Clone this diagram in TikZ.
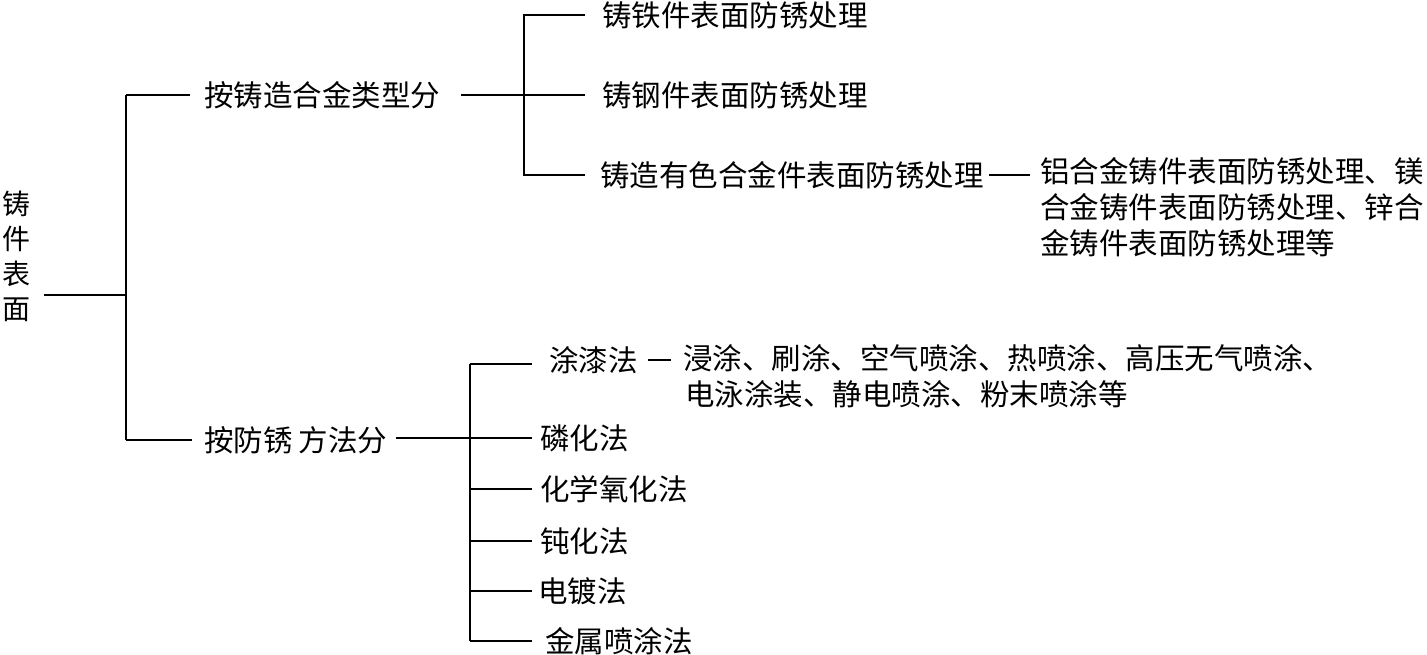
\documentclass[tikz,border=0pt]{standalone}
\usepackage{fontspec}
\setmainfont{Noto Sans CJK SC}
\begin{document}
\begin{tikzpicture}[x=1pt,y=-1pt,
  every node/.style={inner sep=0pt, anchor=west, font=\fontsize{29.5}{36}\selectfont},
  multi/.style={anchor=north west, align=left},
  heavy/.style={line width=2pt},
  light/.style={line width=1.1pt}]
\useasboundingbox (0,0) rectangle (1427,654);
% nodes
\node[anchor=center, align=center, font=\fontsize{28}{35}\selectfont] (root) at (16,256) {铸\\件\\表\\面};
\node (a) at (204,95) {按铸造合金类型分};
\node (b) at (204,440) {按防锈\hspace{6pt}方法分};
\node (a1) at (602,15) {铸铁件表面防锈处理};
\node (a2) at (602,95) {铸钢件表面防锈处理};
\node (a3) at (600,175) {铸造有色合金件表面防锈处理};
\node[multi] (a3d) at (1040,157) {铝合金铸件表面防锈处理、镁\\合金铸件表面防锈处理、锌合\\金铸件表面防锈处理等};
\node (b1) at (549,360) {涂漆法};
\node[multi] (b1d) at (683,344) {浸涂、刷涂、空气喷涂、热喷涂、高压无气喷涂、\\\hspace{2pt}电泳涂装、静电喷涂、粉末喷涂等};
\node (b2) at (540,438) {磷化法};
\node (b3) at (540,489) {化学氧化法};
\node (b4) at (540,541) {钝化法};
\node (b5) at (538,591) {电镀法};
\node (b6) at (545,641) {金属喷涂法};
% junctions
\coordinate (j0) at (126,295);
\coordinate (ja) at (524,95);
\coordinate (jb) at (470,438);
\coordinate (eb) at (532,438);
% connectors
\draw[heavy, shorten <=14pt] (root.east |- j0) -- (j0);
\draw[heavy] (a.west -| j0) -- (b.west -| j0);
\draw[light] (a.west -| j0) -- ([xshift=-14pt]a.west);
\draw[heavy] (b.west -| j0) -- ([xshift=-12pt]b.west);
\draw[light] ([xshift=21pt]a.east) -- ([xshift=-17pt]a2.west);
\draw[light] ([xshift=-17pt]a1.west) -- (a1.west -| ja) -- (a3.west -| ja) -- ([xshift=-15pt]a3.west);
\draw[light] ([xshift=5pt]a3.east) -- ([xshift=-10pt]a3.east -| a3d.west);
\draw[light] ([xshift=10pt]b1.east) -- ([xshift=33pt]b1.east);
\draw[heavy] ([xshift=9pt]b.east |- jb) -- (jb);
\draw[heavy] ([yshift=-4pt]b1.west -| jb) -- (b6.west -| jb);
\draw[light] ([yshift=-4pt]b1.west -| jb) -- ([yshift=-4pt]b1.west -| eb);
\foreach \n in {b2,b3,b5,b6} {\draw[heavy] (\n.west -| jb) -- (\n.west -| eb);}
\draw[light] (b4.west -| jb) -- (b4.west -| eb);
\end{tikzpicture}
\end{document}
